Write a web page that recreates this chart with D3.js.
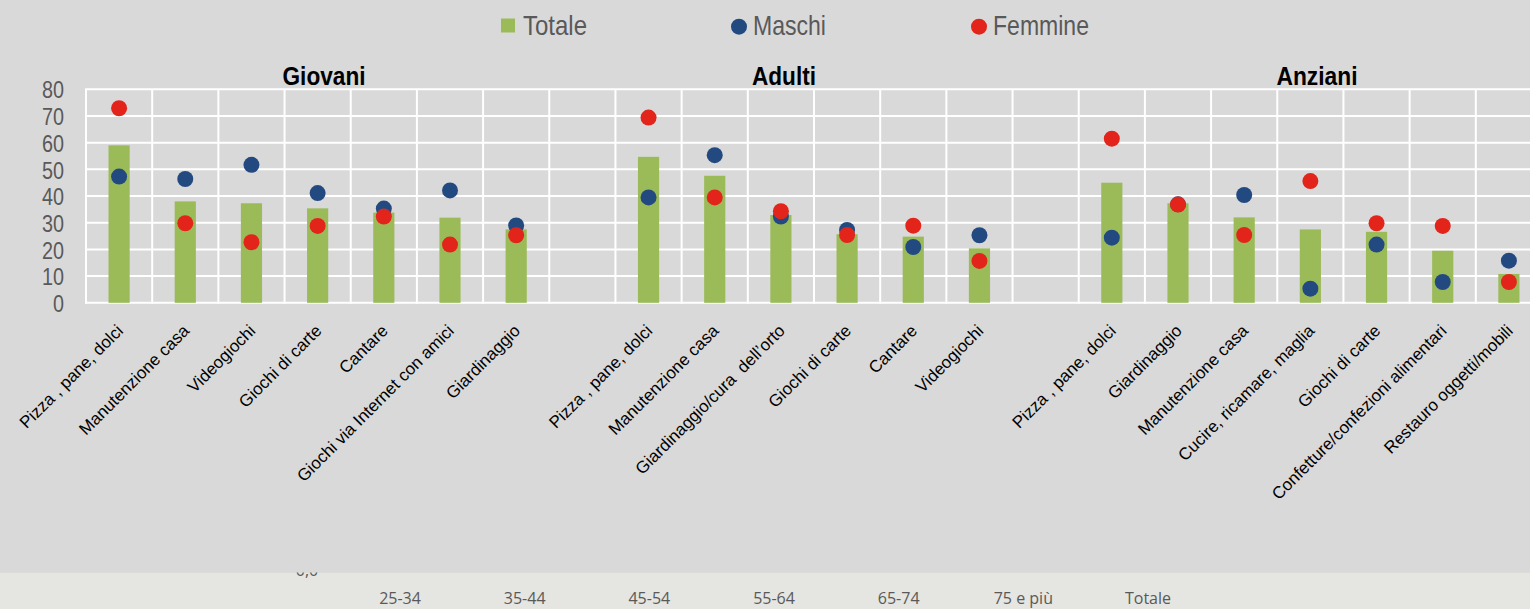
<!DOCTYPE html>
<html><head><meta charset="utf-8">
<script src="https://cdn.jsdelivr.net/npm/d3@7"></script>
<style>
html,body{margin:0;padding:0;background:#d9d9d9;}
svg{display:block;}
</style></head>
<body>
<svg id="chart" width="1530" height="609"></svg>
<script>
// ---------- DATA ----------
const groupNames = ["Giovani", "Adulti", "Anziani"];

const giovaniCats = ["Pizza , pane, dolci", "Manutenzione casa", "Videogiochi", "Giochi di carte", "Cantare", "Giochi via Internet con amici", "Giardinaggio"];
const giovaniTotale  = [59, 38, 37.3, 35.4, 33.8, 31.9, 27.5];
const giovaniMaschi  = [47.3, 46.4, 51.7, 41.1, 35.3, 42.1, 29.0];
const giovaniFemmine = [72.9, 29.8, 22.7, 28.8, 32.3, 21.8, 25.3];

const adultiCats = ["Pizza , pane, dolci", "Manutenzione casa", "Giardinaggio/cura  dell\u2019orto", "Giochi di carte", "Cantare", "Videogiochi"];
const adultiTotale  = [54.7, 47.6, 32.9, 25.7, 24.8, 20.4];
const adultiMaschi  = [39.5, 55.3, 32.3, 27.3, 20.9, 25.3];
const adultiFemmine = [69.4, 39.5, 34.3, 25.4, 28.9, 15.7];

const anzianiCats = ["Pizza , pane, dolci", "Giardinaggio", "Manutenzione casa", "Cucire, ricamare, maglia", "Giochi di carte", "Confetture/confezioni alimentari", "Restauro oggetti/mobili"];
const anzianiTotale  = [45.0, 37.3, 32.0, 27.5, 26.6, 19.5, 10.8];
const anzianiMaschi  = [24.4, 36.9, 40.4, 5.3, 21.8, 7.8, 15.8];
const anzianiFemmine = [61.5, 36.8, 25.4, 45.6, 29.8, 28.8, 7.8];

const seriesNames = ["Totale", "Maschi", "Femmine"];
const yTicks = [0, 10, 20, 30, 40, 50, 60, 70, 80];
const bottomLabels = ["25-34", "35-44", "45-54", "55-64", "65-74", "75 e pi\u00f9", "Totale"];
const hiddenLabel = "0,0";

// ---------- LAYOUT / STYLE ----------
const W = 1530, H = 609;
const plot = {left: 86, right: 1542, top: 89.3, bottom: 302.8};
const colors = {bg: "#d9d9d9", strip: "#e5e5e1", grid: "#ffffff", Totale: "#9bbb59", Maschi: "#234a80", Femmine: "#e2241b", axis: "#595959"};
const narrow = "'Liberation Sans Narrow','Arial Narrow','Liberation Sans',Arial,sans-serif";
const regular = "'Liberation Sans',Arial,sans-serif";

// build flat category list with gaps between groups
const groups = [
  {name: groupNames[0], cats: giovaniCats, tot: giovaniTotale, m: giovaniMaschi, f: giovaniFemmine},
  {name: groupNames[1], cats: adultiCats, tot: adultiTotale, m: adultiMaschi, f: adultiFemmine},
  {name: groupNames[2], cats: anzianiCats, tot: anzianiTotale, m: anzianiMaschi, f: anzianiFemmine}
];
const rows = [];
groups.forEach((g, gi) => {
  if (gi > 0) rows.push({key: "gap" + gi, label: "", tot: null, m: null, f: null, group: null});
  g.cats.forEach((c, i) => rows.push({key: g.name + "|" + c, label: c, tot: g.tot[i], m: g.m[i], f: g.f[i], group: g.name}));
});

const svg = d3.select("#chart");
const x = d3.scaleBand().domain(rows.map(r => r.key)).range([plot.left, plot.right]).paddingInner(0).paddingOuter(0);
const y = d3.scaleLinear().domain([0, 80]).range([plot.bottom, plot.top]);

// bottom strip with hidden label behind
const strip = svg.append("g");
strip.append("rect").attr("x", 0).attr("y", 572.5).attr("width", W).attr("height", H - 572.5).attr("fill", colors.strip);
strip.append("text").attr("x", 307).attr("y", 576).attr("text-anchor", "middle")
  .attr("font-family", "'Open Sans',sans-serif").attr("font-size", 16).attr("fill", "#595959").text(hiddenLabel);
const bx = d3.scalePoint().domain(bottomLabels).range([400, 1148]);
strip.selectAll("text.bl").data(bottomLabels).join("text").attr("class", "bl")
  .attr("x", d => bx(d)).attr("y", 604).attr("text-anchor", "middle")
  .attr("font-family", "'Open Sans',sans-serif").attr("font-size", 16).attr("fill", "#595959").text(d => d);

// chart background (covers the hidden label top)
svg.append("rect").attr("x", 0).attr("y", 0).attr("width", W).attr("height", 572.5).attr("fill", colors.bg);

// gridlines
const grid = svg.append("g").attr("stroke", colors.grid).attr("stroke-width", 2);
grid.selectAll("line.h").data(yTicks).join("line").attr("class", "h")
  .attr("x1", plot.left - 1).attr("x2", plot.right).attr("y1", d => y(d)).attr("y2", d => y(d));
const vb = rows.map(r => x(r.key)).concat([plot.right]);
grid.selectAll("line.v").data(vb).join("line").attr("class", "v")
  .attr("x1", d => d).attr("x2", d => d).attr("y1", plot.top).attr("y2", plot.bottom + 1);

// y axis
const yAxis = d3.axisLeft(y).tickValues(yTicks).tickSize(0).tickPadding(0);
const ya = svg.append("g").attr("transform", `translate(64,0)`).call(yAxis);
ya.select(".domain").remove();
ya.selectAll("text").attr("font-family", regular).attr("font-size", 24).attr("fill", colors.axis)
  .attr("dy", "0.36em").attr("x", 0)
  .attr("textLength", d => String(d).length * 11).attr("lengthAdjust", "spacingAndGlyphs");

// bars
const bw = x.bandwidth() * 0.32;
const data = rows.filter(r => r.tot !== null);
svg.append("g").selectAll("rect").data(data).join("rect")
  .attr("x", d => x(d.key) + x.bandwidth() / 2 - bw / 2).attr("width", bw)
  .attr("y", d => y(d.tot)).attr("height", d => y(0) - y(d.tot))
  .attr("fill", colors.Totale);

// dots
svg.append("g").selectAll("circle").data(data).join("circle")
  .attr("cx", d => x(d.key) + x.bandwidth() / 2).attr("cy", d => y(d.m)).attr("r", 8).attr("fill", colors.Maschi);
svg.append("g").selectAll("circle").data(data).join("circle")
  .attr("cx", d => x(d.key) + x.bandwidth() / 2).attr("cy", d => y(d.f)).attr("r", 8).attr("fill", colors.Femmine);

// category labels
svg.append("g").selectAll("text").data(data).join("text")
  .attr("transform", d => `translate(${x(d.key) + x.bandwidth() / 2 + 5},${plot.bottom + 29}) rotate(-45)`)
  .attr("text-anchor", "end").attr("font-family", regular).attr("font-size", 17).attr("fill", "#000")
  .style("white-space", "pre").text(d => d.label);

// group titles
const titleX = [324, 784, 1317];
const titleW = [83, 64, 81];
svg.append("g").selectAll("text").data(groupNames).join("text")
  .attr("x", (d, i) => titleX[i] - titleW[i] / 2).attr("y", 85)
  .attr("textLength", (d, i) => titleW[i]).attr("lengthAdjust", "spacingAndGlyphs")
  .attr("font-family", regular).attr("font-weight", "bold").attr("font-size", 25).attr("fill", "#000").text(d => d);

// legend
const legendX = [501, 731, 971];
const legendTW = [64, 73, 96];
const lg = svg.append("g").selectAll("g").data(seriesNames).join("g").attr("transform", (d, i) => `translate(${legendX[i]},0)`);
lg.each(function(d, i) {
  const g = d3.select(this);
  if (d === "Totale") g.append("rect").attr("x", 0).attr("y", 18.5).attr("width", 14).attr("height", 14).attr("fill", colors[d]);
  else g.append("circle").attr("cx", 8).attr("cy", 26.7).attr("r", 8).attr("fill", colors[d]);
  g.append("text").attr("x", 22).attr("y", 35)
    .attr("textLength", legendTW[i]).attr("lengthAdjust", "spacingAndGlyphs")
    .attr("font-family", narrow).attr("font-size", 28).attr("fill", colors.axis).text(d);
});
</script>
</body></html>
